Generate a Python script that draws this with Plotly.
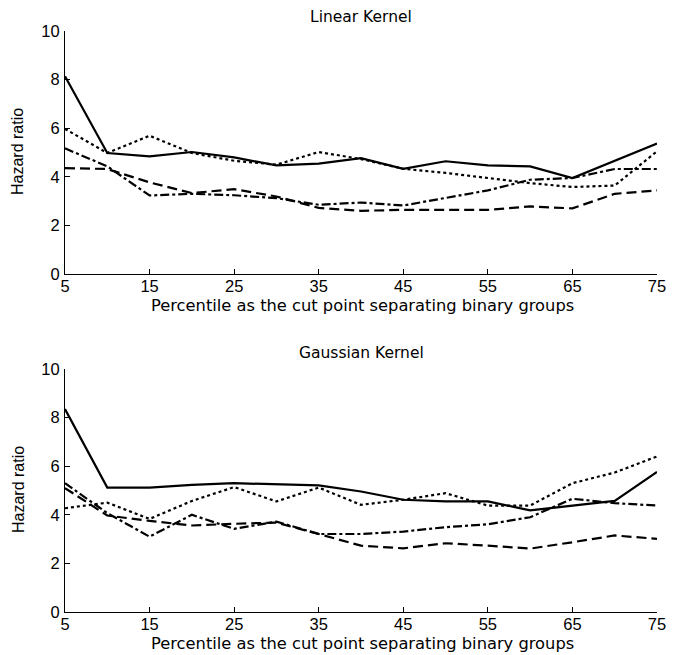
import plotly.graph_objects as go

percentiles = [5, 10, 15, 20, 25, 30, 35, 40, 45, 50, 55, 60, 65, 70, 75]

# Linear kernel
lin_solid = [8.14, 4.98, 4.84, 5.02, 4.80, 4.47, 4.54, 4.77, 4.33, 4.64, 4.47, 4.43, 3.95, 4.66, 5.37]
lin_dotted = [5.97, 4.98, 5.69, 4.98, 4.66, 4.50, 5.02, 4.73, 4.33, 4.16, 3.95, 3.74, 3.58, 3.64, 5.05]
lin_dashed = [4.36, 4.32, 3.77, 3.33, 3.49, 3.19, 2.72, 2.60, 2.64, 2.64, 2.64, 2.78, 2.70, 3.30, 3.44]
lin_dashdot = [5.17, 4.43, 3.23, 3.30, 3.24, 3.12, 2.85, 2.94, 2.82, 3.12, 3.44, 3.88, 3.95, 4.32, 4.32]

# Gaussian kernel
gau_solid = [8.35, 5.12, 5.12, 5.23, 5.30, 5.27, 5.21, 4.96, 4.62, 4.55, 4.55, 4.18, 4.38, 4.57, 5.76]
gau_dotted = [4.27, 4.50, 3.83, 4.57, 5.14, 4.55, 5.12, 4.41, 4.62, 4.89, 4.38, 4.38, 5.30, 5.74, 6.40]
gau_dashed = [5.10, 3.97, 3.75, 3.56, 3.63, 3.68, 3.21, 2.73, 2.62, 2.83, 2.73, 2.61, 2.87, 3.15, 3.01]
gau_dashdot = [5.30, 4.07, 3.10, 4.00, 3.42, 3.72, 3.21, 3.21, 3.31, 3.49, 3.61, 3.90, 4.66, 4.48, 4.38]

panel_titles = ["Linear Kernel", "Gaussian Kernel"]
x_title = "Percentile as the cut point separating binary groups"
y_title = "Hazard ratio"
x_ticks = [5, 15, 25, 35, 45, 55, 65, 75]
y_ticks = [0, 2, 4, 6, 8, 10]

W, H = 673, 655
styles = ["solid", "dot", "10px,5px", "dashdot"]

fig = go.Figure()
panels = [
    ([lin_solid, lin_dotted, lin_dashed, lin_dashdot], "x", "y"),
    ([gau_solid, gau_dotted, gau_dashed, gau_dashdot], "x2", "y2"),
]
for series, xa, ya in panels:
    for vals, dash in zip(series, styles):
        fig.add_trace(go.Scatter(
            x=percentiles, y=vals, mode="lines", xaxis=xa, yaxis=ya,
            line=dict(color="black", width=2.2, dash=dash), showlegend=False,
        ))

x_dom = [65 / W, 657 / W]
top_dom = [1 - 274 / H, 1 - 31 / H]
bot_dom = [1 - 612 / H, 1 - 369 / H]

tickfont = dict(family="Liberation Sans, Arial, sans-serif", size=16.5, color="black")
common_x = dict(range=[5, 75], tickvals=x_ticks, showline=True, linecolor="black",
                linewidth=1, ticks="inside", ticklen=5, tickcolor="black",
                showgrid=False, zeroline=False, tickfont=tickfont, domain=x_dom,
                ticklabelstandoff=-3, automargin=False)
common_y = dict(range=[0, 10], tickvals=y_ticks, showline=True, linecolor="black",
                linewidth=1, ticks="inside", ticklen=5, tickcolor="black",
                showgrid=False, zeroline=False, tickfont=tickfont, ticklabelstandoff=1,
                automargin=False)

fig.update_layout(
    width=W, height=H,
    margin=dict(l=0, r=0, t=0, b=0, autoexpand=False),
    paper_bgcolor="white", plot_bgcolor="white",
    xaxis=dict(**common_x, anchor="y"),
    yaxis=dict(**common_y, domain=top_dom, anchor="x"),
    xaxis2=dict(**common_x, anchor="y2"),
    yaxis2=dict(**common_y, domain=bot_dom, anchor="x2"),
)

hfont = dict(family="DejaVu Sans, sans-serif", size=16.3, color="black")
ann = []
for title, ty, xy in [(panel_titles[0], 17, 305), (panel_titles[1], 353, 643)]:
    ann.append(dict(text=title, x=361 / W, y=1 - ty / H, xref="paper", yref="paper",
                    showarrow=False, font=dict(family="DejaVu Sans, sans-serif", size=15.5, color="black"),
                    xanchor="center", yanchor="middle"))
    ann.append(dict(text=x_title, x=362 / W, y=1 - xy / H, xref="paper", yref="paper",
                    showarrow=False, font=hfont, xanchor="center", yanchor="middle"))
for cy in [152, 490]:
    ann.append(dict(text=y_title, x=18 / W, y=1 - cy / H, xref="paper", yref="paper",
                    showarrow=False, textangle=-90,
                    font=dict(family="Liberation Sans, Arial, sans-serif", size=16, color="black"),
                    xanchor="center", yanchor="middle"))
fig.update_layout(annotations=ann)

fig.write_html("out.html")
